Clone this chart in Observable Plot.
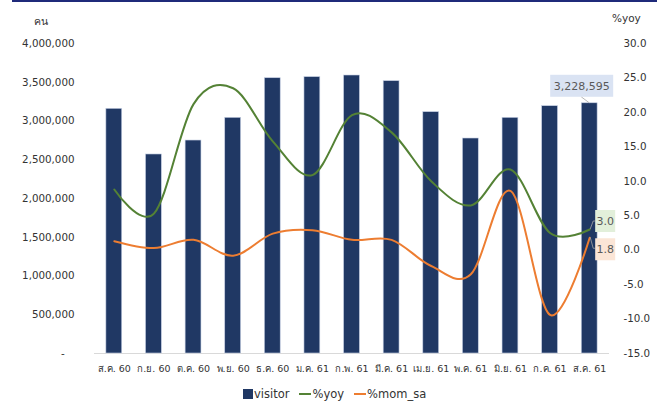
<!DOCTYPE html>
<html><head><meta charset="utf-8">
<script src="https://cdn.jsdelivr.net/npm/d3@7"></script>
<script src="https://cdn.jsdelivr.net/npm/@observablehq/plot@0.6"></script>
<style>
body{margin:0;background:#fff;}
#wrap{position:relative;width:667px;height:402px;overflow:hidden;background:#fff;font-family:"DejaVu Sans",sans-serif;color:#333;}
#topline{position:absolute;left:12px;top:0;width:645px;height:2px;background:#1f2a7a;}
#chart{position:absolute;left:0;top:0;}
.unit{position:absolute;font-size:10.5px;color:#333;}
#legend{position:absolute;top:387px;left:243px;display:flex;align-items:center;font-size:11.5px;color:#333;white-space:nowrap;}
.sw{display:inline-block;}
</style>
</head><body>
<div id="wrap">
  <div id="chart"></div>
  <div id="topline"></div>
  <div class="unit" style="left:34px;top:13px;">คน</div>
  <div class="unit" style="left:612px;top:12px;">%yoy</div>
  <div id="legend"></div>
</div>
<script>
const months = ["ส.ค. 60","ก.ย. 60","ต.ค. 60","พ.ย. 60","ธ.ค. 60","ม.ค. 61","ก.พ. 61","มี.ค. 61","เม.ย. 61","พ.ค. 61","มิ.ย. 61","ก.ค. 61","ส.ค. 61"];
const visitor = [3157000, 2568000, 2748000, 3041000, 3552000, 3566000, 3587000, 3514000, 3114000, 2774000, 3041000, 3191000, 3228595];
const yoy = [8.8, 5.3, 21.2, 23.5, 15.8, 10.9, 19.6, 17.1, 10.0, 6.5, 11.7, 2.5, 3.0];
const momSa = [1.3, 0.3, 1.5, -0.8, 2.4, 2.9, 1.5, 1.5, -2.3, -3.5, 8.6, -9.4, 1.8];
const leftTicks = [0, 500000, 1000000, 1500000, 2000000, 2500000, 3000000, 3500000, 4000000];
const rightTicks = [-15, -10, -5, 0, 5, 10, 15, 20, 25, 30];
const seriesNames = ["visitor", "%yoy", "%mom_sa"];
const colors = {bar: "#203864", yoy: "#548235", mom: "#ed7d31"};

const data = months.map((m, i) => ({month: m, visitor: visitor[i], yoy: yoy[i], mom: momSa[i]}));
const LMAX = 4000000, RMIN = -15, RMAX = 30;
const toLeft = v => (v - RMIN) / (RMAX - RMIN) * LMAX;
const fromLeft = d => Math.round(((d / LMAX) * (RMAX - RMIN) + RMIN) * 10) / 10 + 0;

const chart = Plot.plot({
  width: 667, height: 380,
  marginTop: 43, marginBottom: 27, marginLeft: 94, marginRight: 58,
  style: {fontFamily: "DejaVu Sans, sans-serif", fontSize: "10.3px", color: "#333", background: "transparent", overflow: "visible"},
  x: {domain: months, paddingInner: 0.6, paddingOuter: 0.3, round: false, axis: null},
  y: {domain: [0, LMAX], axis: null},
  marks: [
    Plot.axisX({domain: months, tickSize: 0, tickPadding: 12, fontSize: 9.5, label: null}),
    Plot.axisY({ticks: leftTicks, tickSize: 0, tickPadding: 20, label: null,
      tickFormat: d => d === 0 ? "-\u00a0\u00a0\u00a0" : d3.format(",")(d)}),
    Plot.axisY({anchor: "right", ticks: rightTicks.map(toLeft), tickSize: 0, tickPadding: 14, label: null,
      tickFormat: d => fromLeft(d).toFixed(1)}),
    Plot.ruleY([0], {stroke: "#d9d9d9", strokeWidth: 1}),
    Plot.barY(data, {x: "month", y: "visitor", fill: colors.bar, stroke: "#c5cfe3", strokeWidth: 0.6}),
    Plot.line(data, {x: "month", y: d => toLeft(d.yoy), stroke: colors.yoy, strokeWidth: 2, curve: "cardinal"}),
    Plot.line(data, {x: "month", y: d => toLeft(d.mom), stroke: colors.mom, strokeWidth: 2, curve: "cardinal"})
  ]
});
document.getElementById("chart").append(chart);

// data labels on the last point, positioned from the scales
const xs = chart.scale("x"), ys = chart.scale("y");
const last = data[data.length - 1];
const cx = xs.apply(last.month) + xs.bandwidth / 2;
const svg = d3.select(chart);
const g = svg.append("g").attr("font-family", "DejaVu Sans, sans-serif").attr("font-size", "11px").attr("fill", "#595959");
function boxLabel(text, bx, by, bw, bh, fill, leader) {
  g.append("path").attr("d", leader).attr("fill", "none").attr("stroke", "#a6a6a6").attr("stroke-width", 0.8);
  g.append("rect").attr("x", bx).attr("y", by).attr("width", bw).attr("height", bh).attr("fill", fill);
  g.append("text").attr("x", bx + bw / 2).attr("y", by + bh / 2).attr("dy", "0.35em").attr("text-anchor", "middle").text(text);
}
const vy = ys.apply(last.visitor);
boxLabel(d3.format(",")(last.visitor), cx - 39, vy - 28, 63, 22, "#dae3f3",
  `M${cx},${vy} L${cx - 8},${vy - 6}`);
const yy = ys.apply(toLeft(last.yoy));
boxLabel(last.yoy.toFixed(1), cx + 6, yy - 19, 20, 22, "#e2efda",
  `M${cx + 1},${yy} L${cx + 4},${yy - 8} L${cx + 6},${yy - 8}`);
const my = ys.apply(toLeft(last.mom));
boxLabel(last.mom.toFixed(1), cx + 6, my + 1, 20, 22, "#fbe5d6",
  `M${cx + 1},${my} L${cx + 4},${my + 11} L${cx + 6},${my + 11}`);

// legend
const leg = d3.select("#legend");
seriesNames.forEach((name, i) => {
  const item = leg.append("span").style("display", "inline-flex").style("align-items", "center").style("margin-right", i < 2 ? "10px" : "0");
  if (i === 0) item.append("span").attr("class", "sw").style("width", "10px").style("height", "10px").style("background", colors.bar).style("margin-right", "1px");
  else item.append("span").attr("class", "sw").style("width", "12px").style("height", "2px").style("background", i === 1 ? colors.yoy : colors.mom).style("margin-right", "1px");
  item.append("span").text(name);
});
</script>
</body></html>
